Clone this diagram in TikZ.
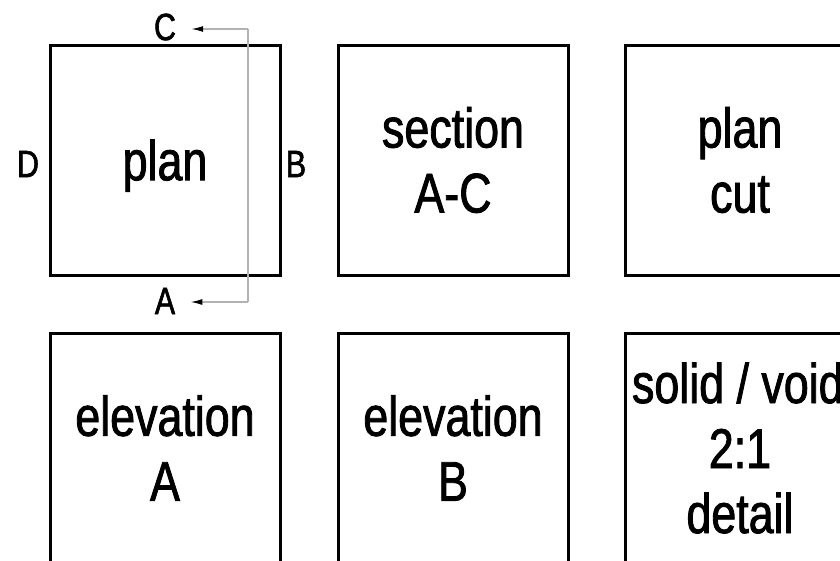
\documentclass[tikz,border=0pt]{standalone}
\usepackage{fontspec}
\setmainfont[FakeStretch=0.8, FakeBold=1.5]{Liberation Sans}
\usetikzlibrary{arrows.meta}

\tikzset{
  sheet/.style={draw, line width=3pt, minimum size=230pt, inner sep=0pt,
    align=center, execute at begin node={\rule{0pt}{52pt}},
    font=\fontsize{56}{65}\selectfont},
  tag/.style={inner sep=1pt, font=\fontsize{38}{40}\selectfont},
  cutline/.style={gray!60, line width=1.5pt},
  cutarrow/.style={cutline, -{Latex[black,length=12pt,width=6pt]}, shorten >=14pt}
}

\begin{document}
\begin{tikzpicture}[x=1pt, y=-1pt]
  \useasboundingbox (0,0) rectangle (840,560);
  % top row
  \node[sheet] (plan) at (165,160) {plan};
  \node[sheet] (section) at (453,160) {section\\A-C};
  \node[sheet] (plancut) at (740,160) {plan\\cut};
  % bottom row
  \node[sheet] (elevA) at (165,448) {elevation\\A};
  \node[sheet] (elevB) at (453,448) {elevation\\B};
  \node[sheet] (detail) at (740,448)
    {\makebox[0pt][l]{\hspace*{-108pt}solid / void}\\2:1\\detail};
  % view markers
  \node[tag] (C) at (165,27) {C};
  \node[tag] (A) at (165,301) {A};
  \node[tag] (D) at (28,164) {D};
  \node[tag] (B) at (296,164) {B};
  % section line
  \coordinate (cuttop) at (248,29);
  \coordinate (cutbot) at (248,302);
  \draw[cutline] (cuttop) -- (cutbot);
  \draw[cutarrow] (cuttop) -- (C.east |- cuttop);
  \draw[cutarrow] (cutbot) -- (A.east |- cutbot);
\end{tikzpicture}
\end{document}
